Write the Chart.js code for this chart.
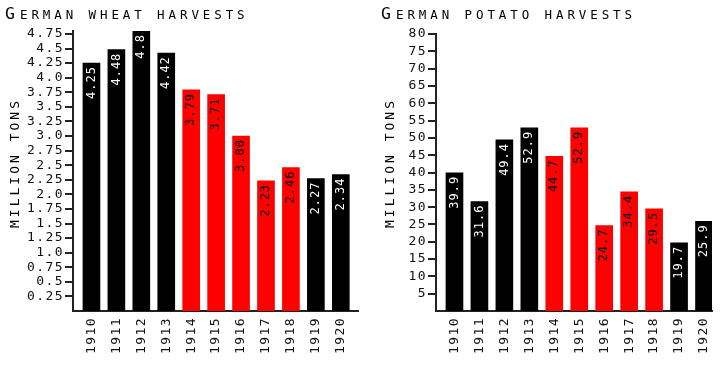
<!DOCTYPE html>
<html>
<head>
<meta charset="utf-8">
<script src="https://cdn.jsdelivr.net/npm/chart.js@4.4.1/dist/chart.umd.min.js"></script>
<style>
  html, body { margin: 0; padding: 0; background: #fff; }
  .row { display: flex; width: 728px; height: 366px; }
  canvas { display: block; }
</style>
</head>
<body>
<div class="row">
  <canvas id="wheat_chart" width="364" height="366"></canvas>
  <canvas id="potato_chart" width="364" height="366"></canvas>
</div>
<script>
// harvest data
const years = [1910, 1911, 1912, 1913, 1914, 1915, 1916, 1917, 1918, 1919, 1920];
const warYears = [1914, 1915, 1916, 1917, 1918];

const wheat = [4.25, 4.48, 4.8, 4.42, 3.79, 3.71, 3.00, 2.23, 2.46, 2.27, 2.34];
const wheatText = ['4.25', '4.48', '4.8', '4.42', '3.79', '3.71', '3.00', '2.23', '2.46', '2.27', '2.34'];
const wheatTicks = [0.25, 0.5, 0.75, 1, 1.25, 1.5, 1.75, 2, 2.25, 2.5, 2.75, 3, 3.25, 3.5, 3.75, 4, 4.25, 4.5, 4.75];
const wheatTickText = ['0.25', '0.5', '0.75', '1.0', '1.25', '1.5', '1.75', '2.0', '2.25', '2.5', '2.75', '3.0', '3.25', '3.5', '3.75', '4.0', '4.25', '4.5', '4.75'];

const potato = [39.9, 31.6, 49.4, 52.9, 44.7, 52.9, 24.7, 34.4, 29.5, 19.7, 25.9];
const potatoText = potato.map((v) => v.toFixed(1));
const potatoTicks = [5, 10, 15, 20, 25, 30, 35, 40, 45, 50, 55, 60, 65, 70, 75, 80];
const potatoTickText = potatoTicks.map(String);

const MONO = '"DejaVu Sans Mono", monospace';
const RED = '#ff0000';
const BLACK = '#000000';
const AXIS = '#222222';

// draws titles, axis title and the value inside each bar
const textPlugin = {
    id: 'harvestText',
    beforeDraw(chart) {
        // spacing for the tick labels drawn by chart.js
        chart.ctx.letterSpacing = '1.4px';
    },
    afterDraw(chart) {
        const ctx = chart.ctx;
        const o = chart.options.plugins.harvestText;

        // bar values, rotated
        const meta = chart.getDatasetMeta(0);
        meta.data.forEach((bar, i) => {
            ctx.save();
            ctx.letterSpacing = '1px';
            ctx.font = '12px ' + MONO;
            ctx.fillStyle = warYears.includes(years[i]) ? BLACK : '#ffffff';
            ctx.translate(bar.x, bar.y + 3);
            ctx.rotate(-Math.PI / 2);
            ctx.textAlign = 'right';
            ctx.textBaseline = 'middle';
            ctx.fillText(o.values[i], 0, 0);
            ctx.restore();
        });

        // chart title, drawn as small caps: big first letter, rest smaller capitals
        ctx.save();
        ctx.fillStyle = BLACK;
        ctx.textAlign = 'left';
        ctx.textBaseline = 'alphabetic';
        ctx.letterSpacing = '0px';
        ctx.font = '16.5px ' + MONO;
        ctx.fillText(o.title[0], o.titleX, 19);
        ctx.letterSpacing = '3.9px';
        ctx.font = '12.5px ' + MONO;
        ctx.fillText(o.title.slice(1).toUpperCase(), o.titleX + 15, 19);
        ctx.restore();

        // y axis title
        ctx.save();
        ctx.letterSpacing = '3px';
        ctx.font = '13px ' + MONO;
        ctx.fillStyle = BLACK;
        ctx.translate(o.axisTitleX, 163);
        ctx.rotate(-Math.PI / 2);
        ctx.textAlign = 'center';
        ctx.textBaseline = 'middle';
        ctx.fillText('MILLION TONS', 0, 0);
        ctx.restore();
    }
};

function makeChart(id, cfg) {
    const ctx = document.getElementById(id).getContext('2d');
    return new Chart(ctx, {
        type: 'bar',
        data: {
            labels: years,
            datasets: [{
                data: cfg.values,
                backgroundColor: years.map((y) => warYears.includes(y) ? RED : BLACK),
                barThickness: 17,
                borderWidth: 0
            }]
        },
        options: {
            responsive: false,
            animation: false,
            devicePixelRatio: 1,
            layout: { padding: { left: 0, top: cfg.top, right: cfg.right, bottom: 0 } },
            plugins: {
                legend: { display: false },
                tooltip: { enabled: false },
                harvestText: {
                    values: cfg.text,
                    title: cfg.title,
                    titleX: cfg.titleX,
                    axisTitleX: cfg.axisTitleX
                }
            },
            scales: {
                x: {
                    type: 'linear',
                    offset: false,
                    min: 1909.26,
                    max: cfg.xMax,
                    afterBuildTicks: (s) => { s.ticks = years.map((v) => ({ value: v })); },
                    afterFit: (s) => { s.height = 55; },
                    grid: { display: false, drawTicks: false },
                    border: { color: AXIS, width: 2 },
                    ticks: {
                        color: '#111',
                        font: { family: MONO, size: 13, lineHeight: 1 },
                        padding: 6,
                        autoSkip: false,
                        minRotation: 90,
                        maxRotation: 90,
                        callback: (v) => String(v)
                    }
                },
                y: {
                    min: 0,
                    max: cfg.yMax,
                    afterBuildTicks: (s) => { s.ticks = cfg.ticks.map((v) => ({ value: v })); },
                    afterFit: (s) => { s.width = cfg.yWidth; },
                    grid: { drawOnChartArea: false, color: AXIS, lineWidth: 2, tickLength: 8 },
                    border: { color: AXIS, width: 2 },
                    ticks: {
                        color: '#111',
                        font: { family: MONO, size: 13 },
                        padding: 1,
                        autoSkip: false,
                        callback: (v, i) => cfg.tickText[i]
                    }
                }
            }
        },
        plugins: [textPlugin]
    });
}

makeChart('wheat_chart', {
    values: wheat, text: wheatText, ticks: wheatTicks, tickText: wheatTickText,
    title: 'German wheat harvests', titleX: 5, axisTitleX: 16,
    yMax: 4.8, top: 31, right: 6, yWidth: 73, xMax: 1920.69
});

makeChart('potato_chart', {
    values: potato, text: potatoText, ticks: potatoTicks, tickText: potatoTickText,
    title: 'German potato harvests', titleX: 17, axisTitleX: 27,
    yMax: 80, top: 34, right: 16, yWidth: 72, xMax: 1920.32
});
</script>
</body>
</html>
